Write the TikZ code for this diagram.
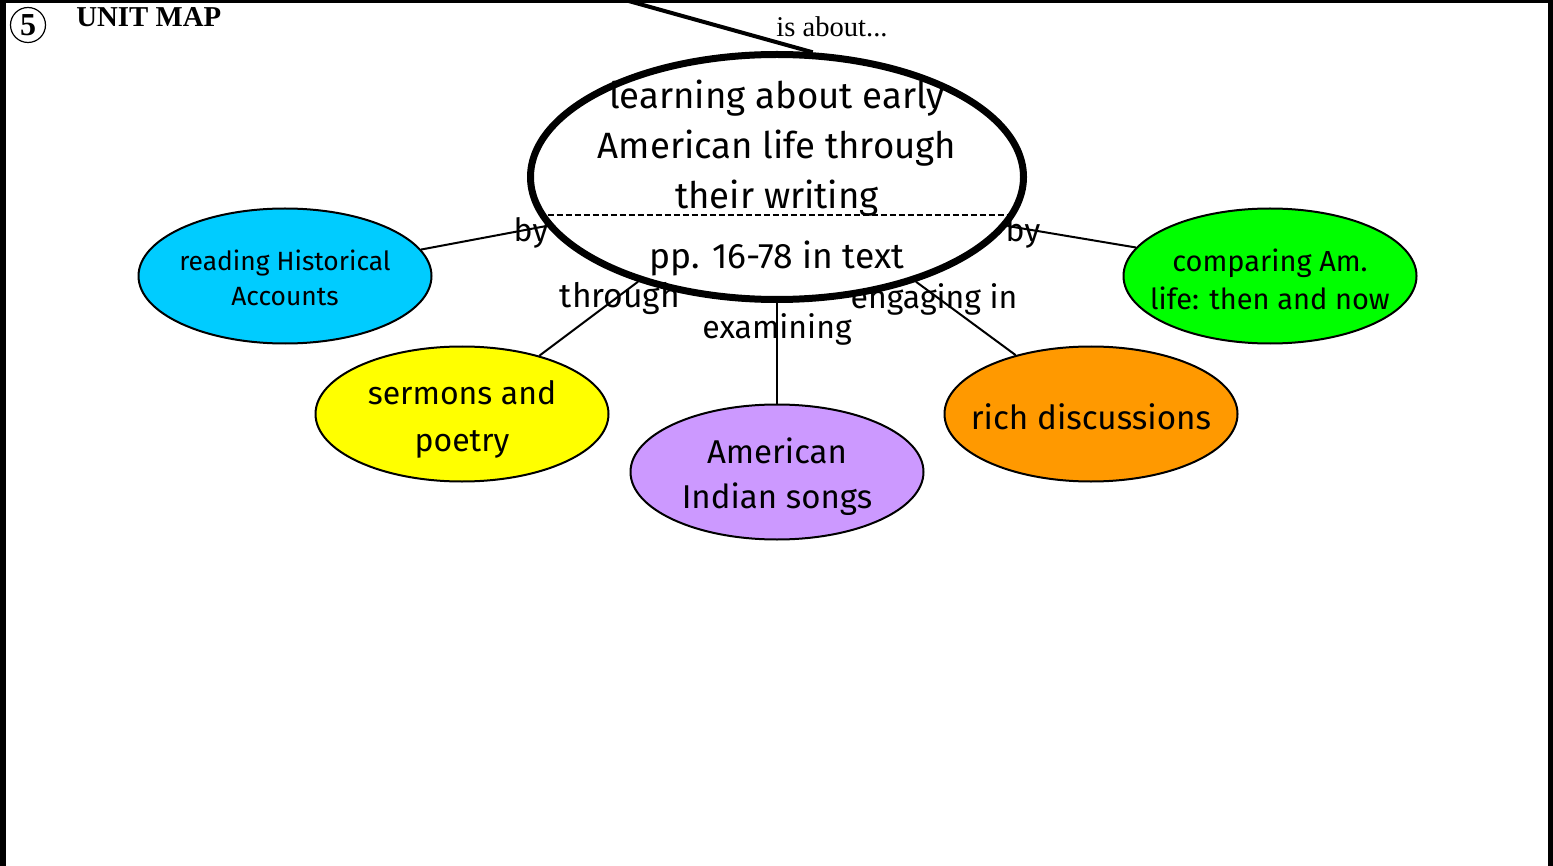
\documentclass[tikz,border=0pt]{standalone}
\usepackage{fontspec}
\setmainfont{Fira Sans}
\newfontfamily\seriffam{Liberation Serif}
\usetikzlibrary{shapes.geometric}
\definecolor{cblue}{HTML}{00CCFF}
\definecolor{cyellow}{HTML}{FFFF00}
\definecolor{cpurple}{HTML}{CC99FF}
\definecolor{corange}{HTML}{FF9900}
\definecolor{cgreen}{HTML}{00FF00}
\begin{document}
\begin{tikzpicture}[x=0.5pt,y=-0.5pt,
  bubble/.style={ellipse, draw=black, line width=1pt, inner sep=0pt, minimum width=146.5pt, minimum height=67.5pt},
  bigtxt/.style={inner sep=0pt, align=center, font=\fontsize{16}{23.5}\selectfont},
  smalltxt/.style={inner sep=0pt, align=center, font=\fontsize{13.2}{17.5}\selectfont},
  linklabel/.style={inner sep=0pt, font=\fontsize{16}{20}\selectfont},
  link/.style={line width=1pt},
  border/.style={line width=#1, draw=black}]
\useasboundingbox (0,0) rectangle (1553,866);
\fill[white] (0,0) rectangle (1553,866);
% frame
\draw[border=3pt] (3,0) -- (3,866);
\draw[border=1.5pt] (0,1.5) -- (1553,1.5);
\draw[border=2.5pt] (1550.5,0) -- (1550.5,866);
% header
\node[circle, draw=black, line width=0.6pt, minimum size=17.5pt, inner sep=0pt, font=\seriffam\bfseries\fontsize{16}{16}\selectfont] (num) at (28,25) {5};
\node[anchor=base west, inner sep=0pt, font=\seriffam\bfseries\fontsize{14.4}{16}\selectfont] (title) at (76,27) {UNIT MAP};
\node[inner sep=0pt, font=\seriffam\fontsize{14.3}{16}\selectfont] (about) at (832,27) {is about...};
% central
\node[ellipse, draw=black, line width=3.5pt, inner sep=0pt, minimum width=246.5pt, minimum height=122.5pt] (center) at (777,177) {};
\node[inner sep=0pt, align=center, font=\fontsize{18.3}{25}\selectfont] (centerT) at (777,148) {learning about early\\American life through\\their writing};
\draw[dashed, dash pattern=on 3pt off 1.5pt, line width=0.8pt] (center.189.14) -- (center.-9.14);
\node[inner sep=0pt, font=\fontsize{17.7}{20}\selectfont] (pages) at (777,258) {pp. 16-78 in text};
\coordinate (topend) at (625,0);
\draw[line width=2pt] (topend) -- (center.74.4);
% satellites
\node[bubble, fill=cblue] (blue) at (285,276) {};
\node[smalltxt] (blueT) at (285,278) {reading Historical\\Accounts};
\node[bubble, fill=cyellow] (yellow) at (462,414) {};
\node[bigtxt] (yellowT) at (462,419) {sermons and\\poetry};
\node[bubble, fill=cpurple] (purple) at (777,472) {};
\node[bigtxt, font=\fontsize{16.5}{22.5}\selectfont] (purpleT) at (777,477) {American\\Indian songs};
\node[bubble, fill=corange] (orange) at (1091,414) {};
\node[bigtxt, font=\fontsize{16.6}{20}\selectfont] (orangeT) at (1091,417) {rich discussions};
\node[bubble, fill=cgreen] (green) at (1270,276) {};
\node[smalltxt, font=\fontsize{14.5}{19}\selectfont] (greenT) at (1270,279) {comparing Am.\\life: then and now};
% connectors
\draw[link] (center.192) -- (blue.11.5);
\draw[link] (center.-12) -- (green.168.3);
\draw[link] (center.217.7) -- (yellow.37.6);
\draw[link] (center.south) -- (purple.north);
\draw[link] (center.-37.5) -- (orange.142.4);
% link labels
\node[linklabel] (byL) at (531,233) {by};
\node[linklabel] (byR) at (1023,233) {by};
\node[linklabel, font=\fontsize{16.8}{20}\selectfont] (through) at (620,299) {through};
\node[linklabel] (examining) at (777,329) {examining};
\node[linklabel] (engaging) at (934,299) {engaging in};
\end{tikzpicture}
\end{document}
